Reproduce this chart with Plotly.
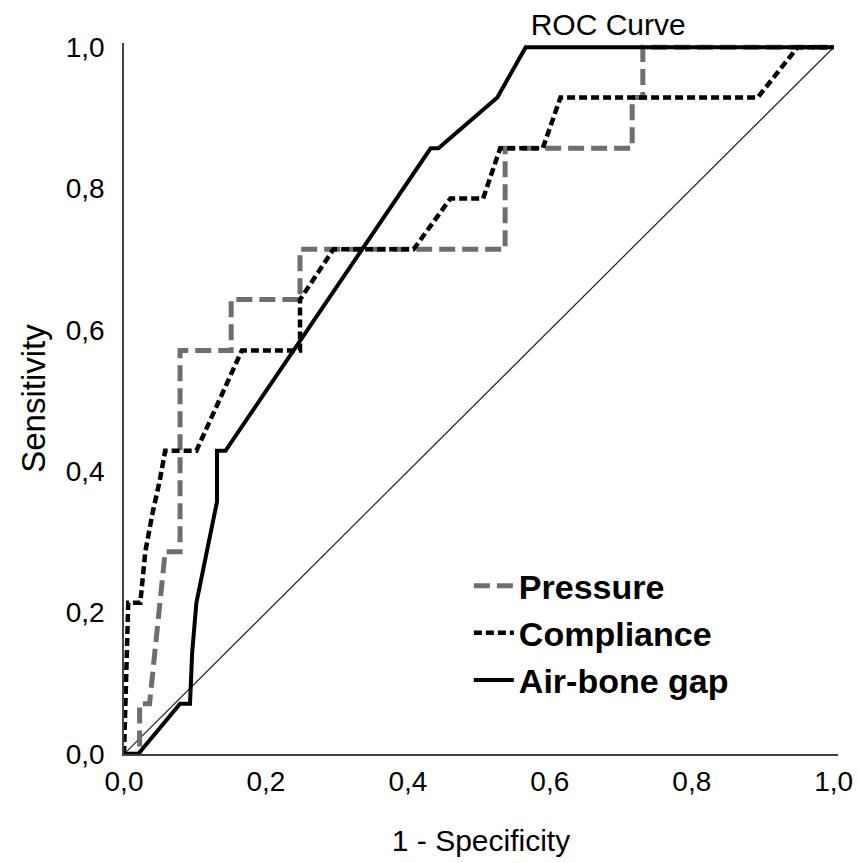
import plotly.graph_objects as go

# ROC curve data (1 - specificity, sensitivity)
pressure_fpr = [0.0, 0.022, 0.022, 0.036, 0.058, 0.079, 0.079, 0.151, 0.151, 0.248, 0.248, 0.537, 0.537, 0.716, 0.716, 0.731, 0.731, 1.0]
pressure_tpr = [0.0, 0.0, 0.071, 0.071, 0.286, 0.286, 0.571, 0.571, 0.643, 0.643, 0.714, 0.714, 0.857, 0.857, 0.929, 0.929, 1.0, 1.0]

compliance_fpr = [0.0, 0.006, 0.023, 0.030, 0.040, 0.050, 0.058, 0.102, 0.166, 0.248, 0.248, 0.295, 0.408, 0.460, 0.506, 0.530, 0.590, 0.615, 0.893, 0.949, 1.0]
compliance_tpr = [0.0, 0.214, 0.214, 0.286, 0.340, 0.385, 0.429, 0.429, 0.571, 0.571, 0.643, 0.714, 0.714, 0.786, 0.786, 0.857, 0.857, 0.929, 0.929, 1.0, 1.0]

airbone_fpr = [0.0, 0.020, 0.079, 0.093, 0.096, 0.102, 0.131, 0.131, 0.143, 0.432, 0.443, 0.526, 0.566, 1.0]
airbone_tpr = [0.0, 0.0, 0.071, 0.071, 0.143, 0.214, 0.357, 0.429, 0.429, 0.857, 0.857, 0.929, 1.0, 1.0]

ref_x = [0.0, 1.0]
ref_y = [0.0, 1.0]

tick_vals = [0.0, 0.2, 0.4, 0.6, 0.8, 1.0]

FONT = "Liberation Sans, Arial, sans-serif"

fig = go.Figure()
fig.add_trace(go.Scatter(x=ref_x, y=ref_y, mode="lines", showlegend=False,
                         line=dict(color="#202020", width=1.2), hoverinfo="skip"))
fig.add_trace(go.Scatter(x=pressure_fpr, y=pressure_tpr, mode="lines", name="Pressure",
                         line=dict(color="#6e6e6e", width=5, dash="16px,7px")))
fig.add_trace(go.Scatter(x=compliance_fpr, y=compliance_tpr, mode="lines", name="Compliance",
                         line=dict(color="#000000", width=4.5, dash="8px,4px")))
fig.add_trace(go.Scatter(x=airbone_fpr, y=airbone_tpr, mode="lines", name="Air-bone gap",
                         line=dict(color="#000000", width=4)))

fig.update_layout(
    width=859, height=863,
    margin=dict(l=124, r=21, t=43, b=109, autoexpand=False),
    plot_bgcolor="white", paper_bgcolor="white",
    separators=",.",
    font=dict(family=FONT, color="#000000"),
    title=dict(text="ROC Curve", x=0.708, xanchor="center", y=0.972, yanchor="middle",
               font=dict(size=30, family=FONT, color="#000000"), automargin=False),
    legend=dict(x=0.483, xanchor="left", y=0.277, yanchor="top",
                font=dict(size=34, family=FONT, weight="bold", color="#000000"),
                bgcolor="rgba(0,0,0,0)", tracegroupgap=0, itemwidth=40),
)
fig.update_xaxes(range=[0, 1.006], tickvals=tick_vals, tickformat=".1f", automargin=False,
                 showgrid=False, zeroline=False, showline=True, linecolor="#444444", linewidth=1.5,
                 ticks="", ticklabelstandoff=2,
                 tickfont=dict(size=28, family=FONT),
                 title=dict(text="1 - Specificity", font=dict(size=30, family=FONT), standoff=34))
fig.update_yaxes(range=[0, 1.006], tickvals=tick_vals, tickformat=".1f", automargin=False,
                 showgrid=False, zeroline=False, showline=True, linecolor="#444444", linewidth=1.5,
                 ticks="", ticklabelstandoff=12,
                 tickfont=dict(size=28, family=FONT),
                 title=dict(text="Sensitivity", font=dict(size=33, family=FONT), standoff=10))

fig.write_html("out.html", config={"displayModeBar": False},
               post_script="document.body.style.margin='0';document.body.style.overflow='hidden';")
